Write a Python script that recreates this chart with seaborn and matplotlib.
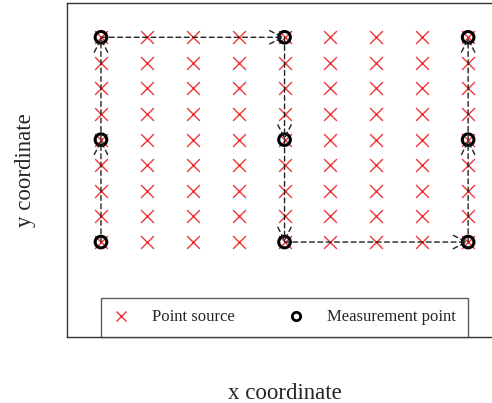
import matplotlib
matplotlib.use("Agg")
import matplotlib.pyplot as plt
import pandas as pd
import seaborn as sns
from matplotlib.lines import Line2D

# Regular grid of point sources
grid_x = [1, 2, 3, 4, 5, 6, 7, 8, 9]
grid_y = [1, 2, 3, 4, 5, 6, 7, 8, 9]

# Measurement locations (visited in this order along the survey path)
path_x = [1, 1, 1, 5, 5, 5, 9, 9, 9]
path_y = [1, 5, 9, 9, 5, 1, 1, 5, 9]

sources = pd.DataFrame(
    [(x, y) for x in grid_x for y in grid_y], columns=["x", "y"]
)
measure = pd.DataFrame({"x": path_x, "y": path_y})

sns.set_theme(style="white")
plt.rcParams["font.family"] = ["Liberation Serif", "DejaVu Serif"]

fig = plt.figure(figsize=(4.92, 4.03), dpi=100)
ax_w = 436
ax = fig.add_axes([67 / 492, 1 - 337 / 403, ax_w / 492, 334 / 403])

red = "#ee3535"
sns.scatterplot(data=sources, x="x", y="y", marker="x", s=85, color=red,
                linewidth=1.0, ax=ax, legend=False, zorder=2)
sns.scatterplot(data=measure, x="x", y="y", marker="o", s=70,
                facecolor="none", edgecolor="black", linewidth=2.2,
                ax=ax, legend=False, zorder=3)

# Dashed arrows between consecutive measurement points
for i in range(1, len(path_x)):
    ax.annotate(
        "", xy=(path_x[i], path_y[i]), xytext=(path_x[i - 1], path_y[i - 1]),
        arrowprops=dict(arrowstyle="->,head_length=0.8,head_width=0.4",
                        linestyle=(0, (3.5, 2.5)), color="#222222", lw=1.0,
                        shrinkA=0, shrinkB=0),
        zorder=4,
    )

ax.set_xlim(0.26, 9.76)
ax.set_ylim(-2.71, 10.34)
ax.set_xticks([])
ax.set_yticks([])
for sp in ax.spines.values():
    sp.set_color("#333333")
    sp.set_linewidth(1.0)

ax.set_xlabel("x coordinate", fontsize=16.5, labelpad=33)
ax.set_ylabel("y coordinate", fontsize=16.5, labelpad=22)

handles = [
    Line2D([], [], marker="x", color=red, linestyle="none", markersize=7,
           markeredgewidth=1.0, label="Point source"),
    Line2D([], [], marker="o", color="black", markerfacecolor="none",
           linestyle="none", markersize=6, markeredgewidth=2.0,
           label="Measurement point"),
]
leg = ax.legend(handles=handles, loc="lower left", ncol=2,
                bbox_to_anchor=(34 / ax_w, 0), borderaxespad=0,
                fontsize=12, frameon=True, fancybox=False,
                handlelength=1.0, handletextpad=1.36, columnspacing=3.2,
                borderpad=0.7)
leg.get_frame().set_edgecolor("#333333")
leg.get_frame().set_linewidth(1.0)

fig.savefig("out.png", dpi=100)
